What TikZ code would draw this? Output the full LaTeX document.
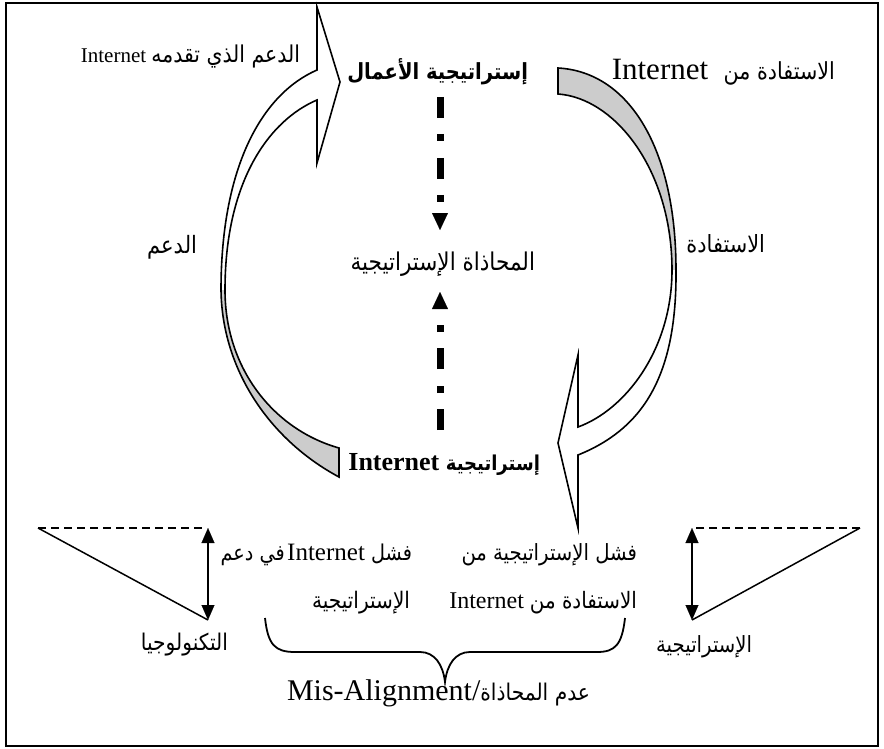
\documentclass[tikz,border=0pt]{standalone}
\usepackage{fontspec}
\setmainfont{Liberation Serif}
\newfontfamily\arabicfont[Script=Arabic,FakeStretch=0.88]{DejaVu Sans}
\TeXXeTstate=1
\usetikzlibrary{arrows.meta}
\definecolor{ribbon}{RGB}{204,204,204}
\newcommand\fs[1]{\fontsize{#1}{#1}\selectfont}
\newcommand\arf[1]{\arabicfont\fs{#1}}
\begin{document}
\begin{tikzpicture}[x=1pt,y=-1pt,
  lbl/.style={inner sep=0pt, outer sep=0pt},
  frame/.style={line width=2pt},
  ribbonline/.style={line width=1.6pt, line join=miter},
  dashdot/.style={line width=7pt, dash pattern=on 21pt off 16pt on 7pt off 17pt,
     -{Triangle[width=16pt,length=17pt,line width=0.1pt]}},
  dblarrow/.style={line width=2pt,
     {Triangle[width=13pt,length=15pt,line width=0.1pt]}-{Triangle[width=13pt,length=15pt,line width=0.1pt]}},
  dashline/.style={line width=1.5pt, dash pattern=on 8pt off 5pt},
  solidline/.style={line width=1.5pt},
  bracepath/.style={line width=1.8pt}]
\useasboundingbox (0,0) rectangle (884,749);
\draw[frame] (6,3) rectangle (878,746);

% ---- left curved arrow (white front, gray back)
\fill[white] (221,290) .. controls (221,170) and (260,95) .. (317,70) -- (317,7) -- (340,82)
  -- (317,163) -- (317,100) .. controls (270,120) and (225,180) .. (225,290) -- cycle;
\fill[ribbon] (221,290) .. controls (222,370) and (270,440) .. (339,477) -- (339,448)
  .. controls (275,430) and (225,370) .. (225,290) -- cycle;
\draw[ribbonline] (339,448) -- (339,477) .. controls (270,440) and (222,370) .. (221,290)
  .. controls (221,170) and (260,95) .. (317,70) -- (317,7) -- (340,82) -- (317,163) -- (317,100)
  .. controls (270,120) and (225,180) .. (225,290) .. controls (225,370) and (275,430) .. (339,448) -- cycle;

% ---- right curved arrow (gray back, white front)
\fill[ribbon] (558,68) .. controls (630,72) and (676,150) .. (676,270) -- (672,270)
  .. controls (672,170) and (615,98) .. (558,94) -- cycle;
\fill[white] (676,270) .. controls (677,380) and (640,430) .. (578,455) -- (578,528) -- (558,443)
  -- (578,355) -- (578,427) .. controls (625,410) and (672,350) .. (672,270) -- cycle;
\draw[ribbonline] (558,94) -- (558,68) .. controls (630,72) and (676,150) .. (676,270)
  .. controls (677,380) and (640,430) .. (578,455) -- (578,528) -- (558,443) -- (578,355) -- (578,427)
  .. controls (625,410) and (672,350) .. (672,270) .. controls (672,170) and (615,98) .. (558,94) -- cycle;

% ---- texts
\node[lbl, anchor=base east] (tl) at (300,63) {\fs{21}Internet\ {\arf{23.2}\beginR الدعم الذي تقدمه\endR}};
\node[lbl, anchor=base east] (bizstrat) at (528,80) {{\bfseries\arf{22.2}\beginR إستراتيجية الأعمال\endR}};
\node[lbl, anchor=base east] (tr) at (835,80) {\fs{31}Internet\ \ {\arf{23.5}\beginR الاستفادة من\endR}};
\node[lbl, anchor=base east] (support) at (197,253) {{\arf{23.9}\beginR الدعم\endR}};
\node[lbl, anchor=base east] (benefit) at (765,252) {{\arf{23.7}\beginR الاستفادة\endR}};
\node[lbl, anchor=base east] (align) at (535,270) {{\arf{24.5}\beginR المحاذاة الإستراتيجية\endR}};
\node[lbl, anchor=base east] (netstrat) at (540,470) {\bfseries\fs{26}Internet\ {\arf{20.5}\beginR إستراتيجية\endR}};
\node[lbl, anchor=base east] (fail1) at (412,560) {{\arf{21.8}\beginR في دعم\endR}\ \fs{25}Internet\ {\arf{21.8}\beginR فشل\endR}};
\node[lbl, anchor=base east] (fail1b) at (410,608) {{\arf{22.8}\beginR الإستراتيجية\endR}};
\node[lbl, anchor=base east] (fail2) at (637,560) {{\arf{22.3}\beginR فشل الإستراتيجية من\endR}};
\node[lbl, anchor=base east] (fail2b) at (637,608) {\fs{24}Internet\ {\arf{22.6}\beginR الاستفادة من\endR}};
\node[lbl, anchor=base east] (tech) at (228,650) {{\arf{23}\beginR التكنولوجيا\endR}};
\node[lbl, anchor=base east] (strat) at (752,652) {{\arf{22.3}\beginR الإستراتيجية\endR}};
\node[lbl, anchor=base east] (mis) at (590,700) {\fs{30}Mis-Alignment/{\arf{23}\beginR عدم المحاذاة\endR}};

% ---- dash-dot connectors
\coordinate (d1s) at (440,97);
\coordinate (d1e) at (440,230);
\coordinate (d2s) at (440,430);
\coordinate (d2e) at (440,292);
\draw[dashdot] (d1s) -- (d1e);
\draw[dashdot] (d2s) -- (d2e);

% ---- left triangle
\coordinate (la) at (38,528);
\coordinate (lb) at (204,528);
\coordinate (lc) at (208,528);
\coordinate (ld) at (208,620);
\draw[dashline] (la) -- (lb);
\draw[solidline] (la) -- (ld);
\draw[dblarrow] (lc) -- (ld);

% ---- right triangle
\coordinate (ra) at (860,528);
\coordinate (rb) at (696,528);
\coordinate (rc) at (692,528);
\coordinate (rd) at (692,620);
\draw[dashline] (ra) -- (rb);
\draw[solidline] (ra) -- (rd);
\draw[dblarrow] (rc) -- (rd);

% ---- brace
\coordinate (bl) at (265,618);
\coordinate (bt) at (445,682);
\coordinate (br) at (625,618);
\draw[bracepath] (bl) .. controls (268,645) and (275,652) .. (295,652) -- (420,652)
  .. controls (435,652) and (443,665) .. (bt) .. controls (447,665) and (455,652) .. (470,652)
  -- (597,652) .. controls (615,652) and (622,645) .. (br);
\end{tikzpicture}
\end{document}
